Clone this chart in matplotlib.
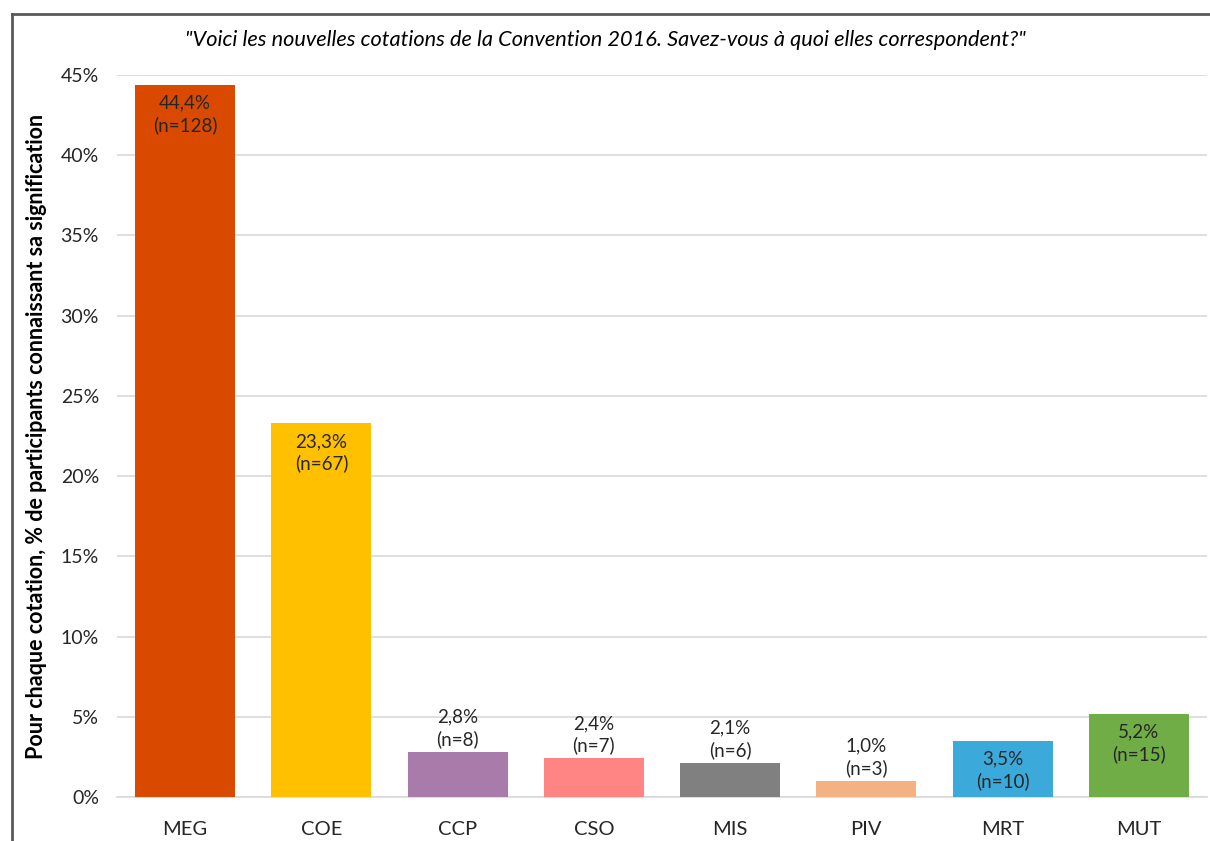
import matplotlib
matplotlib.use('Agg')
import matplotlib.pyplot as plt
from matplotlib.lines import Line2D

plt.rcParams['font.family'] = ['Lato', 'DejaVu Sans']

categories = ['MEG', 'COE', 'CCP', 'CSO', 'MIS', 'PIV', 'MRT', 'MUT']
values = [44.4, 23.3, 2.8, 2.4, 2.1, 1.0, 3.5, 5.2]
counts = [128, 67, 8, 7, 6, 3, 10, 15]
inside = [True, True, False, False, False, False, True, True]
colors = ['#D94A00', '#FFC000', '#A97BAA', '#FF8585', '#808080',
          '#F4B183', '#3BA9DA', '#70AD47']
yticks = [0, 5, 10, 15, 20, 25, 30, 35, 40, 45]

fig = plt.figure(figsize=(12.1, 8.41), dpi=100)
ax = fig.add_axes([117 / 1210, 1 - 797 / 841, 1090 / 1210, (797 - 75) / 841])

x = range(len(categories))
ax.bar(x, values, width=0.735, color=colors, zorder=3)

for i, v in enumerate(values):
    lab = f"{v:.1f}%".replace('.', ',') + f"\n(n={counts[i]})"
    if inside[i]:
        ax.annotate(lab, (i, v), xytext=(0, -7), textcoords='offset points',
                    ha='center', va='top', fontsize=13.5, color='#262626',
                    linespacing=1.3)
    else:
        ax.annotate(lab, (i, v), xytext=(0, 3), textcoords='offset points',
                    ha='center', va='bottom', fontsize=13.5, color='#262626',
                    linespacing=1.3)

ax.set_xlim(-0.5, 7.5)
ax.set_ylim(0, 45)
ax.set_yticks(yticks)
ax.set_yticklabels([f"{t}%" for t in yticks], fontsize=14, color='#262626')
ax.set_xticks(list(x))
ax.set_xticklabels(categories, fontsize=14.5, color='#262626')
ax.tick_params(axis='both', length=0)
ax.tick_params(axis='x', pad=17)
ax.tick_params(axis='y', pad=13)
ax.grid(axis='y', color='#D9D9D9', linewidth=1.2, zorder=0)
for s in ['top', 'right', 'left']:
    ax.spines[s].set_visible(False)
ax.spines['bottom'].set_color('#D9D9D9')
ax.spines['bottom'].set_linewidth(1.2)

ax.set_ylabel('Pour chaque cotation, % de participants connaissant sa signification',
              fontsize=15.5, fontweight='bold', labelpad=10, color='black')

fig.text(605 / 1210, 1 - 40 / 841,
         '"Voici les nouvelles cotations de la Convention 2016. Savez-vous à quoi elles correspondent?"',
         ha='center', va='center', fontsize=15.7, style='italic', color='black')

# outer frame (top and left edges visible)
fig.add_artist(Line2D([12 / 1210, 1], [1 - 14 / 841, 1 - 14 / 841],
                      transform=fig.transFigure, color='#595959', linewidth=2))
fig.add_artist(Line2D([12 / 1210, 12 / 1210], [0, 1 - 14 / 841],
                      transform=fig.transFigure, color='#595959', linewidth=2))

fig.savefig('out.png', dpi=100)
